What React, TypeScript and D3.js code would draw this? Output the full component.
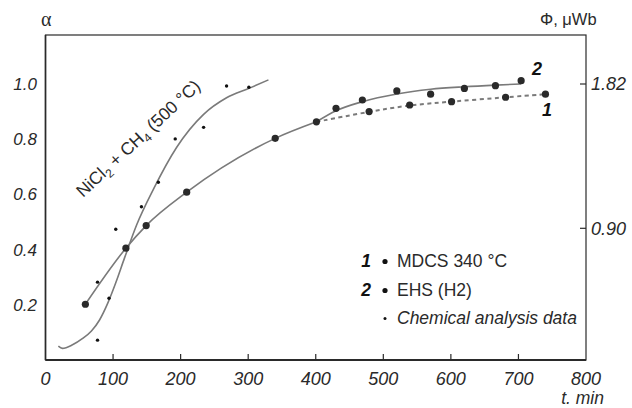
import React, { useEffect, useRef } from 'react';
import * as d3 from 'd3';

// shared part of curves 1 and 2 (t, min / alpha)
const commonT = [59, 119, 149, 209, 340, 401];
const commonA = [0.202, 0.405, 0.487, 0.608, 0.803, 0.863];

// curve 2: EHS (H2) measured points and drawn fit
const ehsT = [401, 430, 469, 520, 570, 620, 666, 704];
const ehsA = [0.863, 0.912, 0.942, 0.975, 0.963, 0.984, 0.994, 1.012];
const ehsFitA = [0.863, 0.903, 0.936, 0.964, 0.981, 0.99, 0.996, 1.0];

// curve 1: MDCS 340 °C
const mdcsT = [401, 479, 539, 601, 681, 740];
const mdcsA = [0.863, 0.9, 0.924, 0.936, 0.952, 0.963];

// chemical analysis data points
const chemT = [77, 77, 94, 104, 142, 167, 192, 234, 268, 301];
const chemA = [0.282, 0.072, 0.224, 0.474, 0.555, 0.644, 0.801, 0.843, 0.993, 0.988];

// NiCl2 + CH4 (500 °C) fitted curve
const niT = [19, 25, 40, 55, 68, 80, 92, 104, 117, 135, 160, 194, 234, 268, 302, 330];
const niA = [0.05, 0.042, 0.055, 0.078, 0.105, 0.145, 0.205, 0.28, 0.37, 0.49, 0.62, 0.77, 0.89, 0.95, 0.985, 1.015];

const xTicks = [0, 100, 200, 300, 400, 500, 600, 700, 800];
const yTicks = [0.2, 0.4, 0.6, 0.8, 1.0];
const phiTicks = [0.9, 1.82];

function Chart() {
  const ref = useRef(null);

  useEffect(() => {
    const svg = d3.select(ref.current);
    svg.selectAll('*').remove();

    const left = 45.5, right = 586, top = 35, bottom = 360;
    const ink = '#2a2a2a', lineCol = '#7a7a7a';
    const sans = '"Liberation Sans", Arial, sans-serif';

    const x = d3.scaleLinear().domain([0, 800]).range([left, right]);
    const y = d3.scaleLinear().domain([0, 1.0]).range([bottom, 84]);
    const yPhi = d3.scaleLinear().domain([0.9, 1.82]).range([228.3, 84]);

    const zip = (ts, as) => ts.map((t, i) => [t, as[i]]);

    // frame
    svg.append('rect')
      .attr('x', left).attr('y', top)
      .attr('width', right - left).attr('height', bottom - top)
      .attr('fill', 'none').attr('stroke', ink).attr('stroke-width', 1.2);
    svg.append('line')
      .attr('x1', left).attr('x2', right).attr('y1', bottom).attr('y2', bottom)
      .attr('stroke', ink).attr('stroke-width', 2);
    svg.append('line')
      .attr('x1', left).attr('x2', left).attr('y1', top).attr('y2', bottom)
      .attr('stroke', ink).attr('stroke-width', 1.6);

    // x ticks (inward) and labels
    const xt = svg.append('g');
    xt.selectAll('line').data(xTicks.slice(1, -1)).join('line')
      .attr('x1', d => x(d)).attr('x2', d => x(d))
      .attr('y1', bottom).attr('y2', bottom - 6)
      .attr('stroke', ink).attr('stroke-width', 1.2);
    xt.selectAll('text').data(xTicks).join('text')
      .attr('x', d => x(d)).attr('y', 385)
      .attr('text-anchor', 'middle')
      .attr('font-family', sans).attr('font-style', 'italic').attr('font-size', 18)
      .attr('fill', ink)
      .text(d => d);

    // left labels
    svg.append('g').selectAll('text').data(yTicks).join('text')
      .attr('x', 37).attr('y', d => y(d))
      .attr('dy', '0.35em')
      .attr('text-anchor', 'end')
      .attr('font-family', sans).attr('font-style', 'italic').attr('font-size', 17)
      .attr('fill', ink)
      .text(d => d.toFixed(1));

    // right axis (flux)
    const rt = svg.append('g');
    rt.selectAll('line').data(phiTicks).join('line')
      .attr('x1', right - 6).attr('x2', right)
      .attr('y1', d => yPhi(d)).attr('y2', d => yPhi(d))
      .attr('stroke', ink).attr('stroke-width', 1.2);
    rt.selectAll('text').data(phiTicks).join('text')
      .attr('x', 591).attr('y', d => yPhi(d))
      .attr('dy', '0.35em')
      .attr('font-family', sans).attr('font-style', 'italic').attr('font-size', 18)
      .attr('fill', ink)
      .text(d => d.toFixed(2));

    // axis titles
    svg.append('text').attr('x', 41).attr('y', 26)
      .attr('font-family', '"Liberation Serif", serif').attr('font-size', 20)
      .attr('fill', ink).text('α');
    svg.append('text').attr('x', 540).attr('y', 25)
      .attr('font-family', sans).attr('font-size', 16.5)
      .attr('fill', ink).text('Φ, μWb');
    svg.append('text').attr('x', 604).attr('y', 404)
      .attr('text-anchor', 'end')
      .attr('font-family', sans).attr('font-style', 'italic').attr('font-size', 17.5)
      .attr('fill', ink).text('t. min');

    const px = d => x(d[0]), py = d => y(d[1]);

    // NiCl2 curve
    svg.append('path')
      .datum(zip(niT, niA))
      .attr('fill', 'none').attr('stroke', lineCol).attr('stroke-width', 1.6)
      .attr('d', d3.line().x(px).y(py).curve(d3.curveMonotoneX));

    // shared solid curve
    svg.append('path')
      .datum(zip(commonT, commonA))
      .attr('fill', 'none').attr('stroke', lineCol).attr('stroke-width', 1.6)
      .attr('d', d3.line().x(px).y(py).curve(d3.curveMonotoneX));

    // curve 2 solid fit
    svg.append('path')
      .datum(zip(ehsT, ehsFitA))
      .attr('fill', 'none').attr('stroke', lineCol).attr('stroke-width', 1.6)
      .attr('d', d3.line().x(px).y(py).curve(d3.curveMonotoneX));

    // curve 1 dashed
    svg.append('path')
      .datum(zip(mdcsT, mdcsA))
      .attr('fill', 'none').attr('stroke', lineCol).attr('stroke-width', 2)
      .attr('stroke-dasharray', '4,3.5')
      .attr('d', d3.line().x(px).y(py).curve(d3.curveBasis));

    // markers
    const dots = [...zip(commonT, commonA), ...zip(ehsT, ehsA).slice(1), ...zip(mdcsT, mdcsA).slice(1)];
    svg.append('g').selectAll('circle').data(dots).join('circle')
      .attr('cx', px).attr('cy', py).attr('r', 3.6)
      .attr('fill', ink);
    svg.append('g').selectAll('circle').data(zip(chemT, chemA)).join('circle')
      .attr('cx', px).attr('cy', py).attr('r', 1.7)
      .attr('fill', '#111');

    // curve numbers
    svg.append('text').attr('x', 537).attr('y', 75)
      .attr('text-anchor', 'middle')
      .attr('font-family', sans).attr('font-style', 'italic').attr('font-weight', 'bold').attr('font-size', 18)
      .attr('fill', '#111').text('2');
    svg.append('text').attr('x', 547).attr('y', 116)
      .attr('text-anchor', 'middle')
      .attr('font-family', sans).attr('font-style', 'italic').attr('font-weight', 'bold').attr('font-size', 18)
      .attr('fill', '#111').text('1');

    // rotated label
    const lbl = svg.append('text')
      .attr('transform', 'translate(83,198) rotate(-43)')
      .attr('font-family', sans).attr('font-size', 17.5)
      .attr('fill', ink);
    lbl.append('tspan').text('NiCl');
    lbl.append('tspan').attr('dy', 4).attr('font-size', 12).text('2');
    lbl.append('tspan').attr('dy', -4).text(' + CH');
    lbl.append('tspan').attr('dy', 4).attr('font-size', 12).text('4');
    lbl.append('tspan').attr('dy', -4).text(' (500 °C)');

    // legend
    const leg = [
      { num: '1', label: 'MDCS 340 °C', r: 2.6, y: 267, italic: false },
      { num: '2', label: 'EHS (H2)', r: 2.6, y: 296, italic: false },
      { num: '', label: 'Chemical analysis data', r: 1.5, y: 324, italic: true }
    ];
    const lg = svg.append('g').selectAll('g').data(leg).join('g');
    lg.append('text').attr('x', 371).attr('y', d => d.y)
      .attr('text-anchor', 'end')
      .attr('font-family', sans).attr('font-style', 'italic').attr('font-weight', 'bold').attr('font-size', 17.5)
      .attr('fill', '#111').text(d => d.num);
    lg.append('circle').attr('cx', 385).attr('cy', d => d.y - 5.5).attr('r', d => d.r).attr('fill', '#111');
    lg.append('text').attr('x', 397).attr('y', d => d.y)
      .attr('font-family', sans).attr('font-style', d => d.italic ? 'italic' : 'normal').attr('font-size', 17.5)
      .attr('fill', ink).text(d => d.label);
  }, []);

  return <svg ref={ref} width="632" height="408" style={{ position: 'absolute', left: 0, top: 0, background: '#fff' }}></svg>;
}

export default function App() {
  return <Chart />;
}
